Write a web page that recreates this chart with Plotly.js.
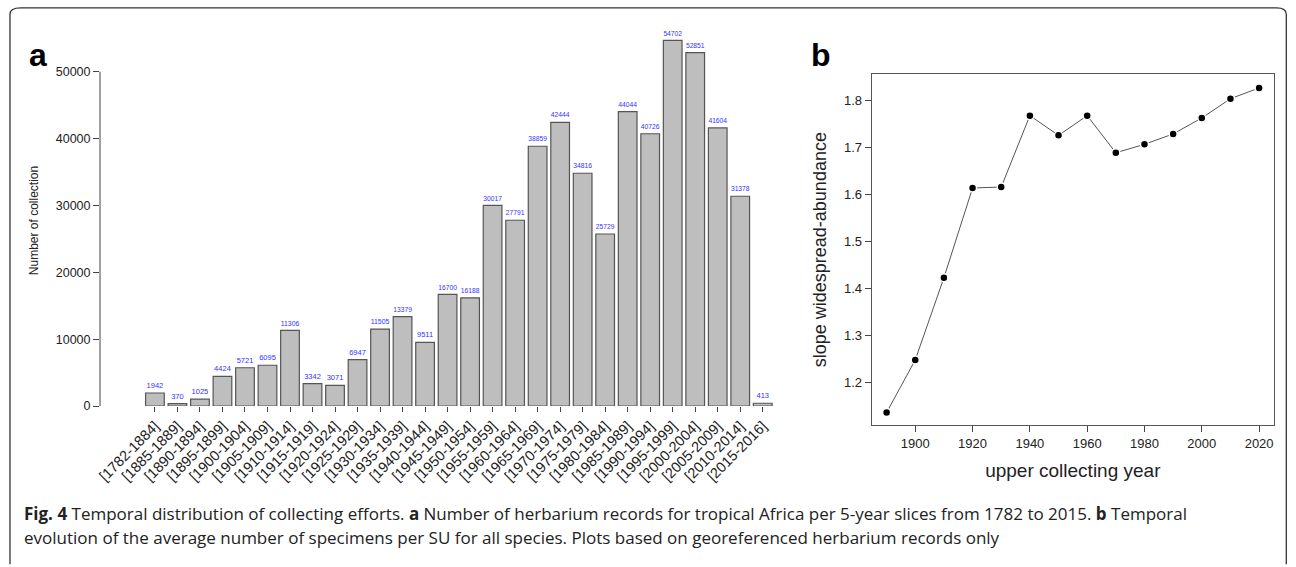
<!DOCTYPE html>
<html><head><meta charset="utf-8">
<script src="https://cdn.plot.ly/plotly-3.0.1.min.js"></script>
<style>body{margin:0;background:#fff}#p{width:1296px;height:567px}</style>
</head><body><div id="p"></div>
<script>
const periods = ["[1782-1884]","[1885-1889]","[1890-1894]","[1895-1899]","[1900-1904]","[1905-1909]","[1910-1914]","[1915-1919]","[1920-1924]","[1925-1929]","[1930-1934]","[1935-1939]","[1940-1944]","[1945-1949]","[1950-1954]","[1955-1959]","[1960-1964]","[1965-1969]","[1970-1974]","[1975-1979]","[1980-1984]","[1985-1989]","[1990-1994]","[1995-1999]","[2000-2004]","[2005-2009]","[2010-2014]","[2015-2016]"];
const counts = [1942,370,1025,4424,5721,6095,11306,3342,3071,6947,11505,13379,9511,16700,16188,30017,27791,38859,42444,34816,25729,44044,40726,54702,52851,41604,31378,413];
const years = [1890,1900,1910,1920,1930,1940,1950,1960,1970,1980,1990,2000,2010,2020];
const slopes = [1.135,1.247,1.422,1.613,1.615,1.767,1.725,1.767,1.688,1.706,1.728,1.762,1.803,1.826];
const yTicksA = [0,10000,20000,30000,40000,50000];

const traces = [
 {type:'bar', x:periods.map((p,i)=>i), y:counts, text:counts.map(String), textposition:'outside',
  textfont:{size:7.5,color:'#3333ff',family:'Liberation Sans'}, cliponaxis:false,
  marker:{color:'#bebebe',line:{color:'#555',width:1.2}}, xaxis:'x', yaxis:'y', hoverinfo:'none'},
 {type:'scatter', mode:'lines', x:years, y:slopes, xaxis:'x2', yaxis:'y2',
  line:{color:'#555',width:1}},
 {type:'scatter', mode:'markers', x:years, y:slopes, xaxis:'x2', yaxis:'y2',
  marker:{color:'#000',size:8,line:{color:'#fff',width:1.5}}}
];
const layout = {
 width:1296, height:567, margin:{l:0,r:0,t:0,b:0}, showlegend:false, bargap:0.17,
 paper_bgcolor:'#fff', plot_bgcolor:'rgba(0,0,0,0)',
 font:{family:'Liberation Sans',color:'#222'},
 xaxis:{domain:[100/1296,774/1296], range:[-2.44,27.5], tickmode:'array',
   tickvals:periods.map((p,i)=>i), ticktext:periods, tickangle:-45,
   tickfont:{size:14.5,color:'#222'}, ticks:'outside', ticklen:5, tickcolor:'#444',
   showgrid:false, zeroline:false, showline:false},
 yaxis:{domain:[1-406/567,1-35/567], range:[0,55500], tickmode:'array', tickvals:yTicksA,
   ticktext:yTicksA.map(String), ticks:'outside',
   ticklen:6, tickcolor:'#444', tickfont:{size:12.5,color:'#222'}, showgrid:false, zeroline:false,
   showline:false, tickangle:0,
   title:{text:'Number of collection', font:{size:12,color:'#222'}, standoff:14}},
 xaxis2:{domain:[871.7/1296,1274/1296], range:[1884.8,2025.2], anchor:'y2',
   tickvals:[1900,1920,1940,1960,1980,2000,2020], ticks:'outside', ticklen:6, tickcolor:'#444',
   tickfont:{size:13,color:'#222'}, showgrid:false, zeroline:false, showline:true, mirror:true,
   linecolor:'#555', linewidth:1,
   title:{text:'upper collecting year', font:{size:19,color:'#222'}, standoff:14}},
 yaxis2:{domain:[1-425/567,1-74.3/567], range:[1.1085,1.855], anchor:'x2',
   tickvals:[1.2,1.3,1.4,1.5,1.6,1.7,1.8], ticks:'outside', ticklen:6, tickcolor:'#444',
   tickfont:{size:13,color:'#222'}, showgrid:false, zeroline:false, showline:true, mirror:true,
   linecolor:'#555', linewidth:1,
   title:{text:'slope widespread-abundance', font:{size:18,color:'#222'}, standoff:12}},
 shapes:[
  {type:'line', xref:'x domain', yref:'y', x0:0, x1:0, y0:0, y1:50000, line:{color:'#444',width:1}},
  {type:'path', xref:'paper', yref:'paper', path:'M 0.0077 0.005 L 0.0077 0.975 Q 0.0077 0.986 0.016 0.986 L 0.985 0.986 Q 0.9925 0.986 0.9925 0.975 L 0.9925 0.005',
   line:{color:'#333',width:1.3}}
 ],
 annotations:[
  {text:'<b>a</b>', x:38/1296, y:1-55/567, xref:'paper', yref:'paper', showarrow:false, xanchor:'center', yanchor:'middle', font:{size:32,color:'#000',family:'Liberation Sans'}},
  {text:'<b>b</b>', x:821/1296, y:1-55/567, xref:'paper', yref:'paper', showarrow:false, xanchor:'center', yanchor:'middle', font:{size:32,color:'#000',family:'Liberation Sans'}},
  {text:'<b>Fig. 4</b> Temporal distribution of collecting efforts. <b>a</b> Number of herbarium records for tropical Africa per 5-year slices from 1782 to 2015. <b>b</b> Temporal',
   x:22/1296, y:1-513/567, xref:'paper', yref:'paper', showarrow:false, xanchor:'left', yanchor:'middle', font:{size:17,color:'#222',family:'Open Sans'}},
  {text:'evolution of the average number of specimens per SU for all species. Plots based on georeferenced herbarium records only',
   x:22/1296, y:1-537/567, xref:'paper', yref:'paper', showarrow:false, xanchor:'left', yanchor:'middle', font:{size:17,color:'#222',family:'Open Sans'}}
 ]
};
Plotly.newPlot('p', traces, layout, {staticPlot:true});
</script></body></html>
